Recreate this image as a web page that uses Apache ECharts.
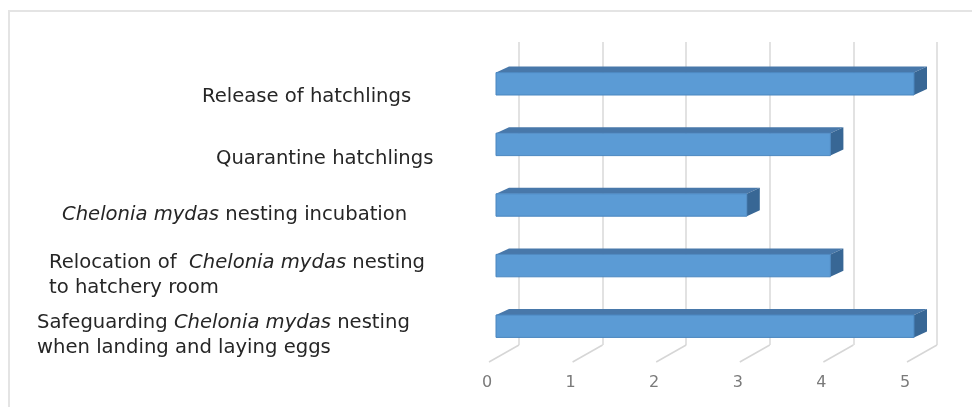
<!DOCTYPE html>
<html>
<head>
<meta charset="utf-8">
<script src="https://cdn.jsdelivr.net/npm/echarts@6/dist/echarts.min.js"></script>
<style>
  html, body { margin: 0; padding: 0; background: #fff; }
  #main { width: 972px; height: 407px; }
</style>
</head>
<body>
<div id="main"></div>
<script>
  // data
  var categories = [
    'Release of hatchlings',
    'Quarantine hatchlings',
    'Chelonia mydas nesting incubation',
    'Relocation of Chelonia mydas nesting to hatchery room',
    'Safeguarding Chelonia mydas nesting when landing and laying eggs'
  ];
  var values = [5, 4, 3, 4, 5];
  var xTicks = [0, 1, 2, 3, 4, 5];

  // label text with italic species name, s0..s4 = left indent of each box
  // (b = text dropped a little lower inside its line)
  var labelRich = [
    '{s0| }{b|Release of hatchlings}',
    '{s1| }{b|Quarantine hatchlings}',
    '{s2| }{i|Chelonia mydas}{n| nesting incubation}',
    '{s3| }{n|Relocation of  }{i|Chelonia mydas}{n| nesting}\n{s3| }{n|to hatchery room}',
    '{s4| }{n|Safeguarding }{i|Chelonia mydas}{n| nesting}\n{s4| }{n|when landing and laying eggs}'
  ];

  var font = 'DejaVu Sans';
  var txt = { fontFamily: font, fontSize: 19.6, color: '#262626', lineHeight: 25 };
  var rich = {
    n: Object.assign({}, txt),
    b: Object.assign({}, txt, { verticalAlign: 'bottom' }),
    i: Object.assign({ fontStyle: 'italic' }, txt),
    s0: Object.assign({}, txt, { width: 165, lineHeight: 28 }),
    s1: Object.assign({}, txt, { width: 179, lineHeight: 30 }),
    s2: Object.assign({ width: 25 }, txt),
    s3: Object.assign({ width: 12 }, txt),
    s4: Object.assign({ width: 0 }, txt)
  };

  var chart = echarts.init(document.getElementById('main'));

  function bar3d(params, api) {
    var v = api.value(0), c = api.value(1);
    var a = api.coord([0, c]);
    var b = api.coord([v, c]);
    var h = api.size([0, 1])[1] * 0.37;
    var x0 = a[0] - 23, x1 = b[0] - 23;
    var cy = a[1] + 11.5;
    var yt = cy - h / 2, yb = cy + h / 2;
    var dx = 13, dy = -6;
    return {
      type: 'group',
      children: [
        { type: 'polygon', shape: { points: [[x0, yt], [x1, yt], [x1 + dx, yt + dy], [x0 + dx, yt + dy]] },
          style: { fill: '#4878aa' } },
        { type: 'polygon', shape: { points: [[x1, yt], [x1 + dx, yt + dy], [x1 + dx, yb + dy], [x1, yb]] },
          style: { fill: '#386795' } },
        { type: 'rect', shape: { x: x0, y: yt, width: x1 - x0, height: yb - yt },
          style: { fill: '#5b9bd5', stroke: '#4a86bf', lineWidth: 1 } }
      ]
    };
  }

  function floorLine(params, api) {
    var p = api.coord([api.value(0), 0]);
    var yb = params.coordSys.y + params.coordSys.height;
    return {
      type: 'line',
      shape: { x1: p[0], y1: yb, x2: p[0] - 30, y2: yb + 17 },
      style: { stroke: '#d6d6d6', lineWidth: 1.5 }
    };
  }

  chart.setOption({
    animation: false,
    backgroundColor: '#fff',
    graphic: [{
      type: 'rect', shape: { x: 9, y: 11, width: 1000, height: 420 },
      style: { fill: 'none', stroke: '#e4e4e4', lineWidth: 2 }, silent: true
    }],
    grid: { left: 519, right: 35, top: 42, bottom: 62 },
    xAxis: {
      type: 'value', min: 0, max: 5, interval: 1,
      axisLine: { show: false }, axisTick: { show: false },
      splitLine: { show: true, lineStyle: { color: '#d9d9d9', width: 1.5 } },
      axisLabel: { color: '#7a7a7a', fontFamily: font, fontSize: 16, margin: 30, padding: [0, 64, 0, 0] }
    },
    yAxis: {
      type: 'category', data: categories, inverse: true,
      axisLine: { show: false }, axisTick: { show: false }, splitLine: { show: false },
      axisLabel: {
        align: 'left', verticalAlign: 'middle', margin: 482, padding: [42, 0, 0, 0],
        formatter: function (val, idx) { return labelRich[idx]; },
        rich: rich
      }
    },
    series: [
      { type: 'custom', renderItem: floorLine, data: xTicks.map(function (t) { return [t, 0]; }),
        encode: { x: 0, y: 1 }, silent: true, z: 1 },
      { type: 'custom', renderItem: bar3d, data: values.map(function (v, i) { return [v, i]; }),
        encode: { x: 0, y: 1 }, z: 2 }
    ]
  });
</script>
</body>
</html>
